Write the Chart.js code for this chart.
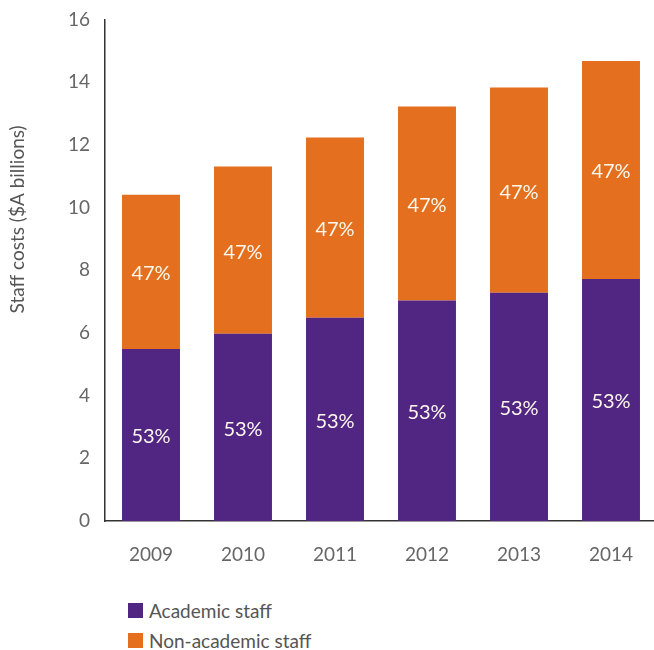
<!DOCTYPE html>
<html>
<head>
<meta charset="utf-8">
<script src="https://cdn.jsdelivr.net/npm/chart.js@4.4.1/dist/chart.umd.min.js"></script>
<style>
  html, body { margin: 0; padding: 0; background: #ffffff; overflow: hidden; }
  #wrap { position: relative; width: 654px; height: 650px; overflow: hidden; }
  #chart { position: absolute; left: 0; top: -7px; }
  #legend { position: absolute; left: 128px; top: 595px; font-family: Lato, "Open Sans", sans-serif; font-weight: 400; font-size: 19px; color: #555; }
  #legend .item { display: flex; align-items: center; height: 30px; }
  #legend .box { width: 15px; height: 15px; margin-right: 6px; }
</style>
</head>
<body>
<div id="wrap">
  <canvas id="chart" width="657" height="587"></canvas>
  <div id="legend"></div>
</div>
<script>
const years = ['2009', '2010', '2011', '2012', '2013', '2014'];
const academic = [5.49, 5.97, 6.48, 7.03, 7.28, 7.72];
const nonAcademic = [4.92, 5.34, 5.75, 6.19, 6.55, 6.95];
const yTicks = [0, 2, 4, 6, 8, 10, 12, 14, 16];
const yTitle = 'Staff costs ($A billions)';

const PURPLE = '#512682';
const ORANGE = '#E36F1F';
const FONT = 'Lato, "Open Sans", sans-serif';

// Share of each year's total staff cost, written inside each segment
const shareLabels = {
  id: 'shareLabels',
  afterDatasetsDraw(chart) {
    const ctx = chart.ctx;
    ctx.save();
    ctx.fillStyle = '#fdf7ee';
    ctx.font = '400 20px ' + FONT;
    ctx.textAlign = 'center';
    ctx.textBaseline = 'middle';
    chart.data.datasets.forEach((ds, di) => {
      const meta = chart.getDatasetMeta(di);
      meta.data.forEach((bar, i) => {
        const total = academic[i] + nonAcademic[i];
        const pct = Math.round(ds.data[i] / total * 100) + '%';
        const mid = (bar.y + bar.base) / 2;
        ctx.fillText(pct, bar.x, mid + 2);
      });
    });
    ctx.restore();
  }
};

// Vertical axis title, set in the upper part of the axis
const axisTitle = {
  id: 'axisTitle',
  afterDraw(chart) {
    const ctx = chart.ctx;
    const area = chart.chartArea;
    ctx.save();
    ctx.translate(18, area.top + 200);
    ctx.rotate(-Math.PI / 2);
    ctx.fillStyle = '#555';
    ctx.font = '400 19px ' + FONT;
    ctx.textAlign = 'center';
    ctx.textBaseline = 'middle';
    ctx.fillText(yTitle, 0, 0);
    ctx.restore();
  }
};

const chart = new Chart(document.getElementById('chart'), {
  type: 'bar',
  data: {
    labels: years,
    datasets: [
      { label: 'Academic staff', data: academic, backgroundColor: PURPLE },
      { label: 'Non-academic staff', data: nonAcademic, backgroundColor: ORANGE }
    ]
  },
  options: {
    responsive: false,
    animation: false,
    layout: { padding: { top: 13, left: 0, right: 0, bottom: 0 } },
    plugins: {
      legend: { display: false },
      tooltip: { enabled: false }
    },
    datasets: { bar: { barPercentage: 0.63, categoryPercentage: 1.0 } },
    scales: {
      x: {
        stacked: true,
        grid: { display: false, drawTicks: false },
        border: { display: true, color: '#333', width: 1.5 },
        ticks: { color: '#666', font: { family: FONT, size: 19, weight: 400 }, padding: 22 },
        afterFit(scale) { scale.height = 59; }
      },
      y: {
        stacked: true,
        min: 0,
        max: 16,
        afterBuildTicks(scale) { scale.ticks = yTicks.map(v => ({ value: v })); },
        grid: { display: false, drawTicks: false },
        border: { display: true, color: '#333', width: 1.5 },
        ticks: { color: '#666', font: { family: FONT, size: 19, weight: 400 }, padding: 15 },
        afterFit(scale) { scale.width = 105; }
      }
    }
  },
  plugins: [shareLabels, axisTitle]
});

// Legend stacked vertically beneath the plot
const legend = document.getElementById('legend');
chart.data.datasets.forEach(ds => {
  const item = document.createElement('div');
  item.className = 'item';
  const box = document.createElement('span');
  box.className = 'box';
  box.style.background = ds.backgroundColor;
  const txt = document.createElement('span');
  txt.textContent = ds.label;
  item.appendChild(box);
  item.appendChild(txt);
  legend.appendChild(item);
});
</script>
</body>
</html>
